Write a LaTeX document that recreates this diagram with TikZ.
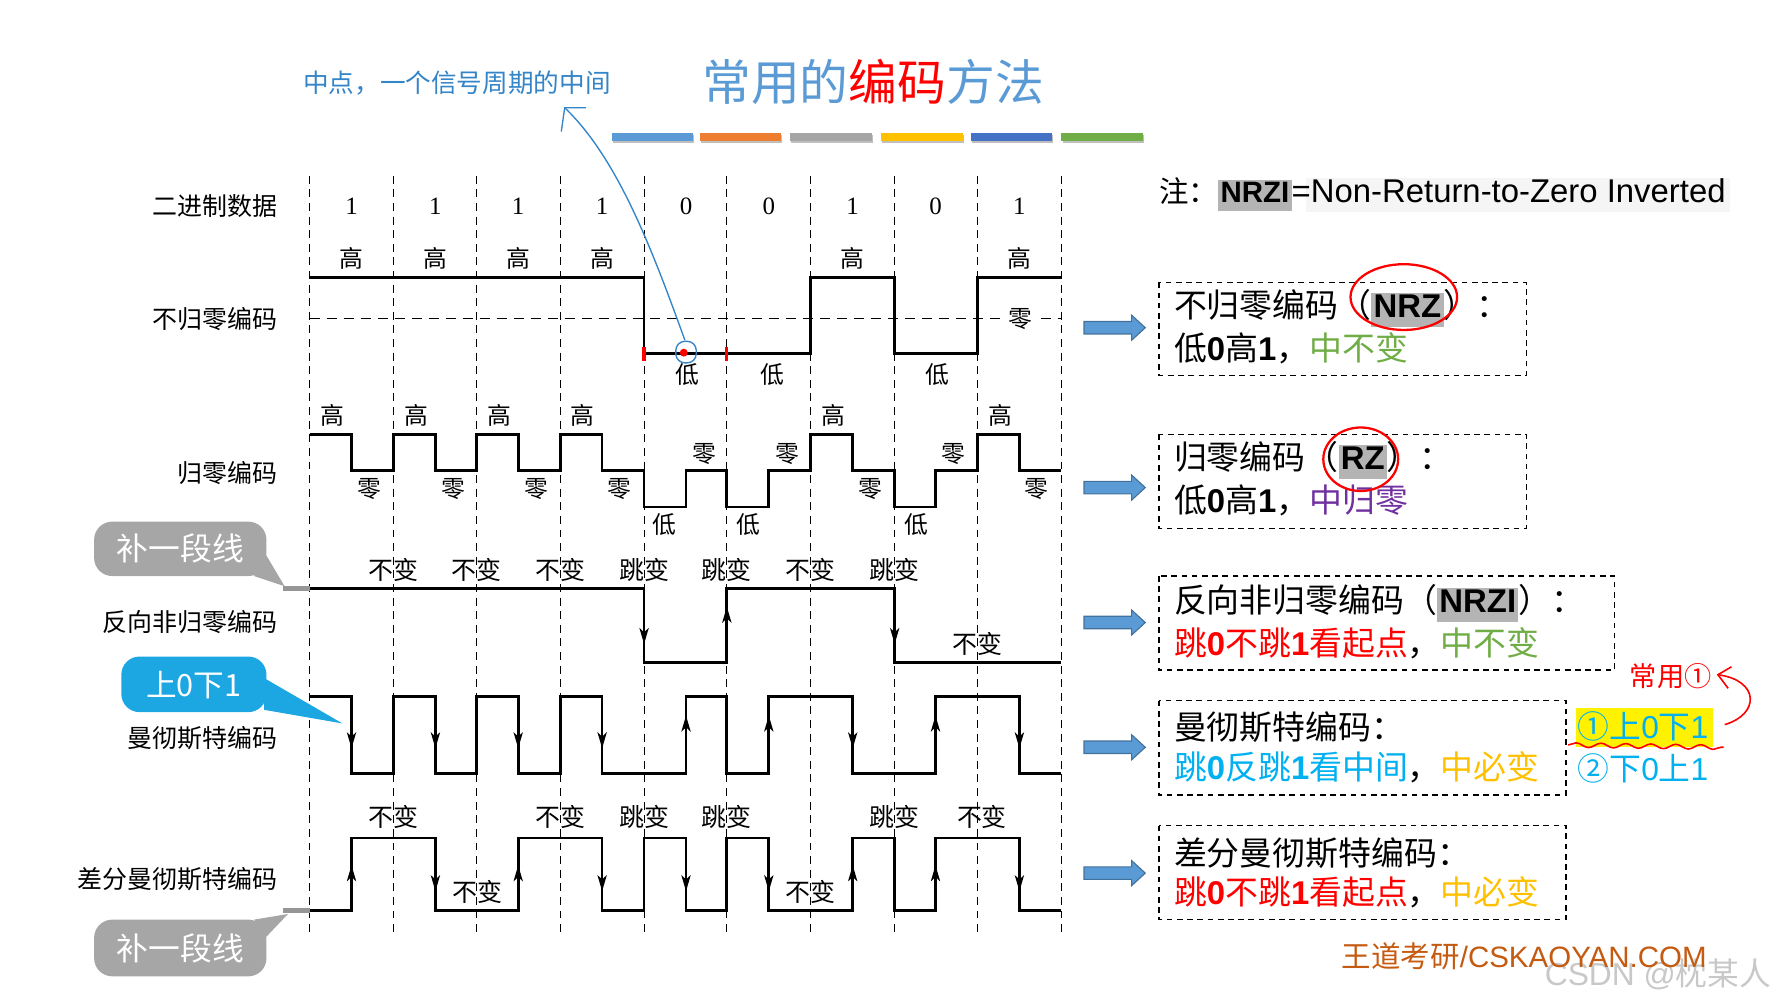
\documentclass[tikz,border=0pt]{standalone}
\usepackage{fontspec}
\setmainfont{Noto Sans CJK SC}
\newfontfamily\lat{Liberation Sans}
\newfontfamily\ser{Liberation Serif}
\usetikzlibrary{arrows.meta,decorations.pathmorphing}
\definecolor{tblue}{RGB}{91,155,213}
\definecolor{annblue}{RGB}{52,132,200}
\definecolor{bOrange}{RGB}{237,125,49}
\definecolor{bGray}{RGB}{165,165,165}
\definecolor{bYellow}{RGB}{255,192,0}
\definecolor{bDBlue}{RGB}{68,114,196}
\definecolor{bGreen}{RGB}{112,173,71}
\definecolor{cgray}{RGB}{166,166,166}
\definecolor{ccyan}{RGB}{28,166,226}
\definecolor{tcyan}{RGB}{0,176,240}
\definecolor{tpurple}{RGB}{112,48,160}
\definecolor{tbrown}{RGB}{197,90,17}
\definecolor{hlgray}{RGB}{180,180,180}
\definecolor{arrfill}{RGB}{91,155,213}
\definecolor{arrdraw}{RGB}{65,113,156}
\definecolor{wmgray}{RGB}{200,200,200}
\definecolor{extgray}{RGB}{150,150,150}
\newcommand\setfs[1]{\fontsize{#1}{#1}\selectfont}
\newcommand\digb[1]{{\lat\bfseries #1}}
\newcommand\hlg[1]{{\setlength{\fboxsep}{1pt}\colorbox{hlgray}{\lat\bfseries\vphantom{Ag}#1}}}
\begin{document}
\begin{tikzpicture}[x=0.5pt,y=-0.5pt,
  gridline/.style={line width=0.5pt, dash pattern=on 3.5pt off 2.5pt},
  sig/.style={line width=1.2pt, line join=miter},
  sarr/.style={line width=1.2pt, -{Stealth[length=7pt,width=4pt,inset=1.8pt]}},
  lab/.style={font=\setfs{10.5}, inner sep=0pt},
  rowlab/.style={font=\setfs{11}, anchor=east, inner sep=0pt},
  boxtxt/.style={font=\setfs{14.5}, anchor=west, inner sep=0pt},
  dbox/.style={line width=0.6pt, dash pattern=on 2.5pt off 2pt},
  barrow/.style={fill=arrfill, draw=arrdraw, line width=0.5pt},
  callout/.style={text=white, font=\setfs{14}, inner sep=0pt}
]
\useasboundingbox (0,0) rectangle (1568,882);

% ---------- title ----------
\node[font=\setfs{21.5}, inner sep=0pt] (title) at (770,72)
  {{\color{tblue}常用的}{\color{red}编码}{\color{tblue}方法}};
\foreach \a/\b/\c in {540/611/tblue,617/689/bOrange,697/769/bGray,777/849/bYellow,856/928/bDBlue,936/1008/bGreen}{
  \fill[black!25] (\a+1,119) rectangle (\b+1,126);
  \fill[\c] (\a,117) rectangle (\b,124);
}

% ---------- annotation ----------
\node[font=\setfs{11.3}, text=annblue, anchor=west, inner sep=0pt] (ann) at (267,73) {中点，一个信号周期的中间};

% ---------- grid ----------
\foreach \x in {273,347,420,494,568,641,715,789,862,936}
  \draw[gridline] (\x,155) -- (\x,825);

% ---------- row labels ----------
\node[rowlab] (r1) at (245,182) {二进制数据};
\node[rowlab] (r2) at (245,281) {不归零编码};
\node[rowlab] (r3) at (245,417) {归零编码};
\node[rowlab] (r4) at (245,549) {反向非归零编码};
\node[rowlab] (r5) at (245,651) {曼彻斯特编码};
\node[rowlab] (r6) at (245,775) {差分曼彻斯特编码};

% ---------- data ----------
\foreach \x/\d [count=\i] in {310/1,384/1,457/1,531/1,605/0,678/0,752/1,825/0,899/1}
  \node[font=\ser\setfs{11}, inner sep=0pt] (d\i) at (\x,182) {\d};

% ---------- NRZ ----------
\draw[line width=0.6pt, dash pattern=on 4.5pt off 3pt] (273,281) -- (936,281);
\draw[sig] (273,245) -- (568,245) -- (568,312) -- (715,312) -- (715,245) -- (789,245) -- (789,312) -- (862,312) -- (862,245) -- (936,245);
\foreach \x [count=\i] in {310,384,457,531,752,899}
  \node[lab] (nh\i) at (\x,228) {高};
\foreach \x [count=\i] in {606,681,827}
  \node[lab] (nl\i) at (\x,330) {低};
\node[lab, fill=white, inner sep=1pt] (nz) at (900,281) {零};
% red marks and pointer
\draw[red, line width=1.4pt] (568,306) -- (568,318);
\draw[red, line width=1.4pt] (641,306) -- (641,318);
\fill[red] (603,311) circle (3.5);
\draw[annblue, line width=0.6pt, rounded corners=4pt] (596,301) rectangle (614,320);
\draw[annblue, line width=0.6pt] (604,300) .. controls (575,220) and (545,140) .. (498,95);
\draw[annblue, line width=0.6pt] (517,95) -- (498,95) -- (495,116);

% ---------- RZ ----------
\draw[sig] (273,383) -- (310,383) -- (310,415) -- (347,415) -- (347,383) -- (384,383) -- (384,415) -- (420,415) -- (420,383) -- (457,383) -- (457,415) -- (494,415) -- (494,383) -- (531,383) -- (531,415) -- (568,415) -- (568,447) -- (605,447) -- (605,415) -- (641,415) -- (641,447) -- (678,447) -- (678,415) -- (715,415) -- (715,383) -- (752,383) -- (752,415) -- (789,415) -- (789,447) -- (825,447) -- (825,415) -- (862,415) -- (862,383) -- (899,383) -- (899,415) -- (936,415);
\foreach \x [count=\i] in {293,367,440,514,735,882}
  \node[lab] (rh\i) at (\x,366) {高};
\foreach \x [count=\i] in {326,400,473,546,768,914}
  \node[lab] (rzb\i) at (\x,431) {零};
\foreach \x [count=\i] in {621,694,841}
  \node[lab] (rza\i) at (\x,400) {零};
\foreach \x [count=\i] in {586,660,808}
  \node[lab] (rl\i) at (\x,463) {低};

% ---------- NRZI ----------
\draw[extgray, line width=2pt] (250,519) -- (273,519);
\draw[sig] (273,519) -- (568,519) -- (568,584) -- (641,584) -- (641,519) -- (789,519) -- (789,584) -- (936,584);
\draw[sarr] (568,519) -- (568,568);
\draw[sarr] (641,584) -- (641,535);
\draw[sarr] (789,519) -- (789,568);
\foreach \x/\t [count=\i] in {347/不变,420/不变,494/不变,568/跳变,641/跳变,715/不变,789/跳变}
  \node[lab, font=\setfs{11}] (ia\i) at (\x,503) {\t};
\node[lab, font=\setfs{11}] (ib) at (862,568) {不变};

% ---------- Manchester ----------
\draw[sig] (273,614) -- (310,614) -- (310,682) -- (347,682) -- (347,614) -- (384,614) -- (384,682) -- (420,682) -- (420,614) -- (457,614) -- (457,682) -- (494,682) -- (494,614) -- (531,614) -- (531,682) -- (605,682) -- (605,614) -- (641,614) -- (641,682) -- (678,682) -- (678,614) -- (752,614) -- (752,682) -- (825,682) -- (825,614) -- (899,614) -- (899,682) -- (936,682);
\foreach \x in {310,384,457,531,752,899}
  \draw[sarr] (\x,614) -- (\x,660);
\foreach \x in {605,678,825}
  \draw[sarr] (\x,682) -- (\x,631);

% ---------- Differential Manchester ----------
\draw[extgray, line width=2pt] (250,803) -- (273,803);
\draw[sig] (273,803) -- (310,803) -- (310,739) -- (384,739) -- (384,803) -- (457,803) -- (457,739) -- (531,739) -- (531,803) -- (568,803) -- (568,739) -- (605,739) -- (605,803) -- (641,803) -- (641,739) -- (678,739) -- (678,803) -- (752,803) -- (752,739) -- (789,739) -- (789,803) -- (825,803) -- (825,739) -- (899,739) -- (899,803) -- (936,803);
\foreach \x in {310,457,752,825}
  \draw[sarr] (\x,803) -- (\x,763);
\foreach \x in {384,531,605,678,899}
  \draw[sarr] (\x,739) -- (\x,786);
\foreach \x/\t [count=\i] in {347/不变,494/不变,568/跳变,641/跳变,789/跳变,866/不变}
  \node[lab, font=\setfs{11}] (da\i) at (\x,720) {\t};
\node[lab, font=\setfs{11}] (db1) at (421,787) {不变};
\node[lab, font=\setfs{11}] (db2) at (715,787) {不变};

% ---------- callouts ----------
\fill[cgray, rounded corners=8pt] (83,460) rectangle (235,508);
\fill[cgray] (224,508) -- (235,490) -- (251,517) -- cycle;
\node[callout] (c1) at (159,484) {补一段线};
\fill[cgray, rounded corners=8pt] (83,811) rectangle (235,861);
\fill[cgray] (224,811) -- (235,826) -- (254,806) -- cycle;
\node[callout] (c2) at (159,836) {补一段线};
\fill[ccyan, rounded corners=8pt] (107,579) rectangle (235,628);
\fill[ccyan] (233,598) -- (233,626) -- (302,638) -- cycle;
\node[callout, font=\setfs{13.5}] (c3) at (171,604) {上0下1};

% ---------- note ----------
\fill[black!4] (1152,157) rectangle (1526,187);
\node[anchor=west, inner sep=0pt, font=\setfs{13}] (note) at (1022,171)
  {注：\hlg{NRZI}{\lat\setfs{14.5}=Non-Return-to-Zero Inverted}};

% ---------- block arrows ----------
\foreach \y in {289,430,549,659,770}
  \draw[barrow] (956,\y-5.5) -- (998,\y-5.5) -- (998,\y-11) -- (1010,\y) -- (998,\y+11) -- (998,\y+5.5) -- (956,\y+5.5) -- cycle;

% ---------- boxes ----------
\draw[dbox] (1022,249) rectangle (1346,331);
\node[boxtxt] (b1a) at (1035,272) {不归零编码（\hlg{NRZ}）：};
\node[boxtxt] (b1b) at (1035,307) {低\digb{0}高\digb{1}，{\color{bGreen}中不变}};
\draw[red, line width=1pt] (1238,262) ellipse [x radius=47, y radius=29];

\draw[dbox] (1022,383) rectangle (1346,466);
\node[boxtxt] (b2a) at (1035,406) {归零编码（\hlg{RZ}）：};
\node[boxtxt] (b2b) at (1035,441) {低\digb{0}高\digb{1}，{\color{tpurple}中归零}};
\draw[red, line width=1pt] (1200,405) ellipse [x radius=33, y radius=28];

\draw[dbox] (1022,508) rectangle (1424,591);
\node[boxtxt] (b3a) at (1035,532) {反向非归零编码（\hlg{NRZI}）：};
\node[boxtxt] (b3b) at (1035,567) {{\color{red}跳\digb{0}不跳\digb{1}看起点}，{\color{bGreen}中不变}};

\draw[dbox] (1022,618) rectangle (1381,701);
\node[boxtxt] (b4a) at (1035,641) {曼彻斯特编码：};
\node[boxtxt] (b4b) at (1035,677) {{\color{tcyan}跳\digb{0}反跳\digb{1}看中间}，{\color{bYellow}中必变}};

\draw[dbox] (1022,728) rectangle (1381,811);
\node[boxtxt] (b5a) at (1035,752) {差分曼彻斯特编码：};
\node[boxtxt] (b5b) at (1035,787) {{\color{red}跳\digb{0}不跳\digb{1}看起点}，{\color{bYellow}中必变}};

% ---------- Manchester side notes ----------
\fill[yellow] (1390,624) rectangle (1511,659);
\node[boxtxt, text=tcyan, font=\setfs{14}] (m1) at (1391,641) {①上{\lat 0}下{\lat 1}};
\node[boxtxt, text=tcyan, font=\setfs{14}] (m2) at (1391,678) {②下{\lat 0}上{\lat 1}};
\draw[red, line width=0.7pt, decorate, decoration={snake, segment length=11pt, amplitude=1pt}] (1383,657) -- (1520,659);
\node[anchor=west, inner sep=0pt, font=\setfs{12}, text=red] (cy) at (1437,596) {常用①};
\draw[red, line width=0.7pt] (1521,639) .. controls (1552,630) and (1552,600) .. (1515,595);
\draw[red, line width=0.7pt] (1527,588) -- (1515,595) -- (1524,607);

% ---------- footer ----------
\node[anchor=west, inner sep=0pt, text=wmgray, font=\setfs{14}] (wm) at (1362,859) {{\lat CSDN @}枕某人};
\node[anchor=west, inner sep=0pt, text=tbrown, font=\setfs{13}] (brand) at (1183,843) {王道考研{\lat /CSKAOYAN.COM}};
\end{tikzpicture}
\end{document}
